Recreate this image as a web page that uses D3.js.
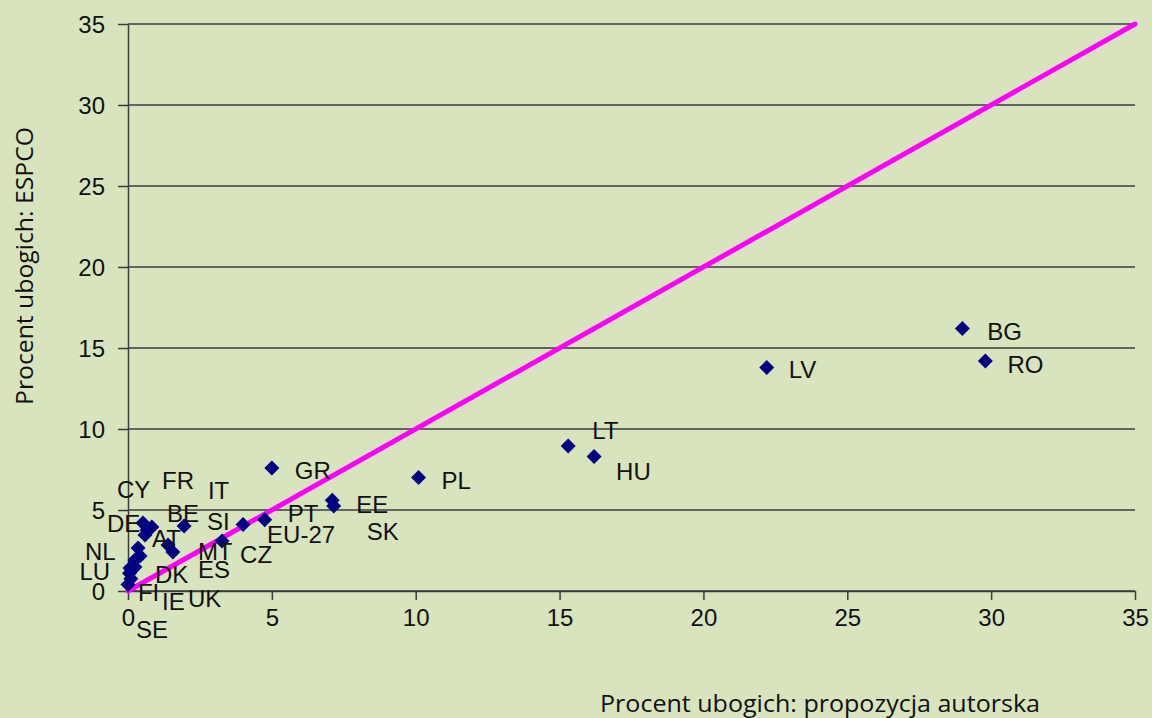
<!DOCTYPE html>
<html>
<head>
<meta charset="utf-8">
<script src="https://cdn.jsdelivr.net/npm/d3@7"></script>
<style>
  body { margin: 0; background: #d7e4bd; }
  svg { display: block; }
</style>
</head>
<body>
<div id="chart"></div>
<script>
// countries and values (x: propozycja autorska, y: ESPCO)
const countries = ["BG", "RO", "LV", "LT", "HU", "PL", "GR", "EE", "SK", "PT",
  "EU-27", "CZ", "MT", "SI", "BE", "IT", "FR", "CY", "DE", "AT",
  "NL", "ES", "DK", "LU", "UK", "IE", "FI", "SE"];
const authorValues = [29.0, 29.8, 22.2, 15.3, 16.2, 10.1, 5.0, 7.1, 7.15, 4.75,
  4.0, 3.27, 1.56, 1.39, 1.95, 0.83, 0.66, 0.52, 0.59, 0.35,
  0.24, 0.42, 0.24, 0.05, 0.14, 0.07, 0.1, 0.0];
const espcoValues = [16.2, 14.2, 13.8, 8.95, 8.3, 7.0, 7.6, 5.6, 5.25, 4.4,
  4.1, 3.09, 2.41, 2.84, 4.01, 3.95, 3.77, 4.2, 3.46, 2.65,
  1.91, 2.16, 1.48, 1.1, 1.3, 1.42, 0.75, 0.4];
const xTicks = [0, 5, 10, 15, 20, 25, 30, 35];
const yTicks = [0, 5, 10, 15, 20, 25, 30, 35];

// label offsets (px) as the labels were placed in the original
const labelOffsets = {
  "BG": [25, 3], "RO": [22, 3], "LV": [22, 2], "LT": [24, -16], "HU": [22, 15],
  "PL": [23, 3], "GR": [23, 2], "EE": [24, 4], "SK": [33, 25], "PT": [23, -6],
  "EU-27": [24, 10], "CZ": [18, 13], "MT": [25, -1], "SI": [39, -24], "BE": [-17, -13],
  "IT": [56, -37], "FR": [15, -50], "CY": [-26, -34], "DE": [-38, -12], "AT": [14, -10],
  "NL": [-50, -9], "ES": [58, 13], "DK": [20, 7], "LU": [-50, -2], "UK": [56, 28],
  "IE": [32, 33], "FI": [7, 14], "SE": [8, 45]
};

const width = 1152, height = 718;
const svg = d3.select("#chart").append("svg").attr("width", width).attr("height", height);
svg.append("rect").attr("width", width).attr("height", height).attr("fill", "#d7e4bd");

const x = d3.scaleLinear().domain([0, 35]).range([128, 1135]);
const y = d3.scaleLinear().domain([0, 35]).range([591, 24]);

const points = countries.map((c, i) => ({ name: c, x: authorValues[i], y: espcoValues[i] }));

// gridlines
svg.append("g").selectAll("line").data(yTicks).enter().append("line")
  .attr("x1", x(0)).attr("x2", x(35))
  .attr("y1", d => y(d)).attr("y2", d => y(d))
  .attr("stroke", "#3c3c3c").attr("stroke-width", 1.5);

const yAxis = svg.append("g").attr("transform", `translate(${x(0)},0)`)
  .call(d3.axisLeft(y).tickValues(yTicks).tickSize(10).tickPadding(13).tickSizeOuter(0));
const xAxis = svg.append("g").attr("transform", `translate(0,${y(0)})`)
  .call(d3.axisBottom(x).tickValues(xTicks).tickSize(9).tickPadding(14).tickSizeOuter(0));

[xAxis, yAxis].forEach(a => {
  a.selectAll("path, line").attr("stroke", "#3c3c3c").attr("stroke-width", 1.5);
  a.selectAll("text").attr("font-family", "Liberation Sans, Arial, sans-serif")
    .attr("font-size", 24).attr("fill", "#111");
});
yAxis.selectAll("text").attr("dy", "0.36em");
xAxis.selectAll("text").attr("dy", "0.5em");

// diagonal y = x
svg.append("line")
  .attr("x1", x(0)).attr("y1", y(0)).attr("x2", x(35)).attr("y2", y(35))
  .attr("stroke", "#ff00ff").attr("stroke-width", 5).attr("stroke-linecap", "round");

// markers
svg.append("g").selectAll("path").data(points).enter().append("path")
  .attr("d", "M0,-7.5L7.5,0L0,7.5L-7.5,0Z")
  .attr("transform", d => `translate(${x(d.x)},${y(d.y)})`)
  .attr("fill", "#000080");

// labels
svg.append("g").selectAll("text").data(points).enter().append("text")
  .attr("x", d => x(d.x) + labelOffsets[d.name][0])
  .attr("y", d => y(d.y) + labelOffsets[d.name][1])
  .attr("dy", "0.36em")
  .attr("font-family", "Liberation Sans, Arial, sans-serif")
  .attr("font-size", 24).attr("fill", "#111")
  .text(d => d.name);

// axis titles
svg.append("text")
  .attr("x", 600).attr("y", 712)
  .attr("font-family", "Open Sans, sans-serif").attr("font-size", 23).attr("fill", "#111")
  .attr("textLength", 440).attr("lengthAdjust", "spacingAndGlyphs")
  .text("Procent ubogich: propozycja autorska");

svg.append("text")
  .attr("transform", "translate(33,266) rotate(-90)")
  .attr("text-anchor", "middle")
  .attr("font-family", "Open Sans, sans-serif").attr("font-size", 23).attr("fill", "#111")
  .attr("textLength", 278).attr("lengthAdjust", "spacingAndGlyphs")
  .text("Procent ubogich: ESPCO");
</script>
</body>
</html>
